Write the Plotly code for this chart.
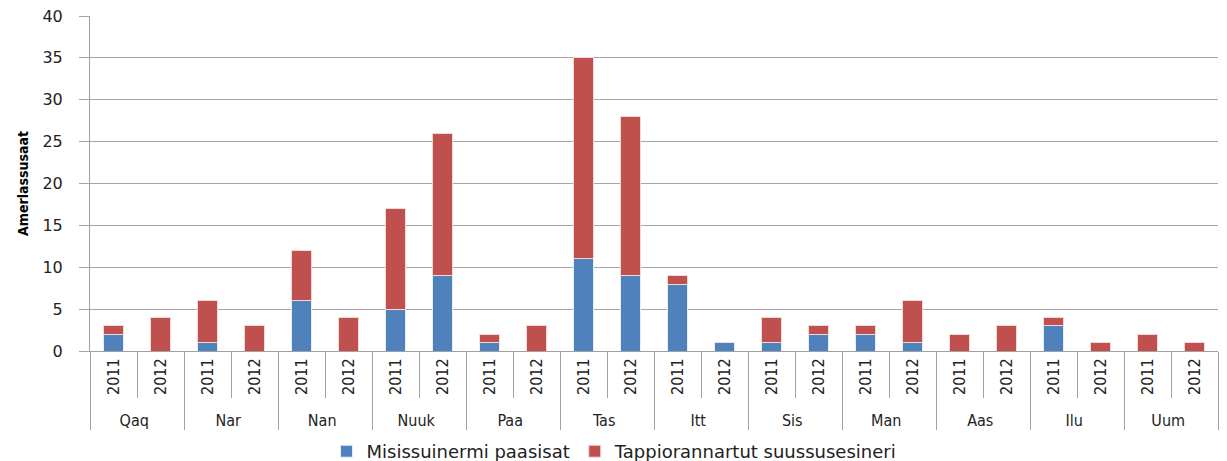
import plotly.graph_objects as go

towns = ['Qaq', 'Nar', 'Nan', 'Nuuk', 'Paa', 'Tas', 'Itt', 'Sis', 'Man', 'Aas', 'Ilu', 'Uum']
years = ['2011', '2012']

# values per town, 2011 then 2012
misissuinermi = [2, 0, 1, 0, 6, 0, 5, 9, 1, 0, 11, 9, 8, 1, 1, 2, 2, 1, 0, 0, 3, 0, 0, 0]
tappiorannartut = [1, 4, 5, 3, 6, 4, 12, 17, 1, 3, 24, 19, 1, 0, 3, 1, 1, 5, 2, 3, 1, 1, 2, 1]

outer = [t for t in towns for _ in years]
inner = [y for _ in towns for y in years]
x = [outer, inner]

fig = go.Figure()

fig.add_trace(go.Bar(
    x=x, y=misissuinermi,
    name='Misissuinermi paasisat',
    marker=dict(color='#4F81BD', line=dict(color='#E6EEF7', width=1))
))
fig.add_trace(go.Bar(
    x=x, y=tappiorannartut,
    name='Tappiorannartut suussusesineri',
    marker=dict(color='#C0504D', line=dict(color='#F2D9D8', width=1))
))

fig.update_layout(
    barmode='stack',
    bargap=0.58,
    width=1227, height=461,
    margin=dict(l=90, r=9, t=16, b=110, autoexpand=False),
    plot_bgcolor='white',
    paper_bgcolor='white',
    font=dict(family='DejaVu Sans', size=15, color='#222222'),
    legend=dict(orientation='h', x=0.465, xanchor='center',
                y=-0.30, yanchor='middle',
                font=dict(family='DejaVu Sans', size=18), traceorder='normal'),
    showlegend=True
)

fig.update_xaxes(
    type='multicategory',
    automargin=False,
    tickangle=-90,
    tickfont=dict(family='DejaVu Sans Condensed', size=16, color='#222222'),
    showline=True, linecolor='#A0A0A0', linewidth=1,
    ticks='outside', tickson='boundaries', ticklen=46, tickcolor='#A0A0A0',
    showdividers=True, dividercolor='#A0A0A0', dividerwidth=1,
    showgrid=False
)

fig.update_yaxes(
    automargin=False,
    range=[0, 40], dtick=5,
    showgrid=True, gridcolor='#A6A6A6', gridwidth=1,
    showline=True, linecolor='#A0A0A0', linewidth=1,
    ticks='outside', ticklen=10, tickcolor='#A6A6A6',
    ticklabelstandoff=13,
    tickfont=dict(family='DejaVu Sans', size=16, color='#222222'),
    title=dict(text='<b>Amerlassusaat</b>',
               font=dict(family='DejaVu Sans Condensed', size=14, color='#000000'),
               standoff=10),
    zeroline=False
)

# page body has a default 8px margin; drop it so the chart fills the window
fig.write_html('out.html', config={'displayModeBar': False},
               post_script="document.body.style.margin='0';")
